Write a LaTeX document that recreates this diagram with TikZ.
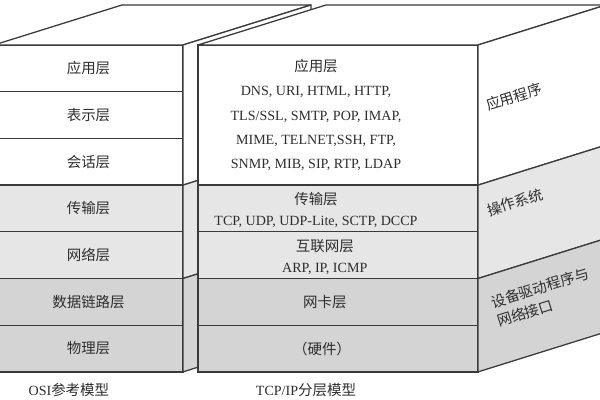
\documentclass[tikz,border=0pt]{standalone}
\usepackage{fontspec}
\setmainfont{Liberation Serif}
\newfontfamily\cjk{Noto Sans CJK SC}[Scale=1.03]
\usepackage{xcolor}
\usepackage{tikz}
\usetikzlibrary{positioning, calc}
\definecolor{edge}{HTML}{3A3A3A}
\definecolor{ink}{HTML}{2E2E2E}
\definecolor{osbg}{HTML}{E6E6E6}
\definecolor{drvbg}{HTML}{D4D4D4}
\newcommand{\zh}[1]{{\cjk #1}}
\tikzset{
    layer/.style={rectangle, draw=edge, line width=0.9pt, outer sep=0pt, inner sep=0pt,
                  minimum height=1.1675cm, align=center, text=ink,
                  font=\fontsize{10}{15}\selectfont},
    osilayer/.style={layer, minimum width=4.725cm},
    tcplayer/.style={layer, minimum width=7cm},
    face/.style={draw=edge, line width=0.9pt, line join=round},
    lbl/.style={align=center, text=ink, inner sep=0pt, font=\fontsize{10}{15}\selectfont},
    sidelbl/.style={lbl, rotate=17.35, align=left, font=\fontsize{10}{14}\selectfont},
}

\begin{document}
\begin{tikzpicture}
  \clip (0,0) rectangle (15,10);
  \fill[white] (0,0) rectangle (15,10);

  % OSI block
  \node[osilayer, anchor=north, fill=white] (osiApp) at (2.2125,8.875) {\zh{应用层}};
  \node[osilayer, below=0pt of osiApp, fill=white] (osiPres) {\zh{表示层}};
  \node[osilayer, below=0pt of osiPres, fill=white] (osiSess) {\zh{会话层}};
  \node[osilayer, below=0pt of osiSess, fill=osbg] (osiTrans) {\zh{传输层}};
  \node[osilayer, below=0pt of osiTrans, fill=osbg] (osiNet) {\zh{网络层}};
  \node[osilayer, below=0pt of osiNet, fill=drvbg] (osiLink) {\zh{数据链路层}};
  \node[osilayer, below=0pt of osiLink, fill=drvbg] (osiPhy) {\zh{物理层}};

  \draw[face, fill=white] (osiApp.north west) -- (osiApp.north east) -- ++(3.2,1)
       -- ($(osiApp.north west)+(3.2,1)$) -- cycle;
  \draw[face, fill=white] (osiApp.north east) -- ++(3.2,1) -- ($(osiSess.south east)+(3.2,1)$)
       -- (osiSess.south east) -- cycle;
  \draw[face, fill=osbg] (osiTrans.north east) -- ++(3.2,1) -- ($(osiNet.south east)+(3.2,1)$)
       -- (osiNet.south east) -- cycle;
  \draw[face, fill=drvbg] (osiLink.north east) -- ++(3.2,1) -- ($(osiPhy.south east)+(3.2,1)$)
       -- (osiPhy.south east) -- cycle;

  % TCP/IP block
  \node[tcplayer, anchor=north, minimum height=3.5025cm, fill=white] (tcpApp) at (8.45,8.875) {};
  \node[tcplayer, below=0pt of tcpApp, fill=osbg] (tcpTrans) {};
  \node[tcplayer, below=0pt of tcpTrans, fill=osbg] (tcpNet) {};
  \node[tcplayer, below=0pt of tcpNet, fill=drvbg] (tcpLink) {};
  \node[tcplayer, below=0pt of tcpLink, fill=drvbg] (tcpHw) {};

  \draw[face, fill=white] (tcpApp.north west) -- (tcpApp.north east) -- ++(3.2,1)
       -- ($(tcpApp.north west)+(3.2,1)$) -- cycle;
  \draw[face, fill=white] (tcpApp.north east) -- ++(3.2,1) -- ($(tcpApp.south east)+(3.2,1)$)
       -- (tcpApp.south east) -- cycle;
  \draw[face, fill=osbg] (tcpTrans.north east) -- ++(3.2,1) -- ($(tcpNet.south east)+(3.2,1)$)
       -- (tcpNet.south east) -- cycle;
  \draw[face, fill=drvbg] (tcpLink.north east) -- ++(3.2,1) -- ($(tcpHw.south east)+(3.2,1)$)
       -- (tcpHw.south east) -- cycle;

  \node[lbl, font=\fontsize{10}{17.3}\selectfont] (appTxt) at ([xshift=-0.55cm]tcpApp.center)
       {\zh{应用层}\\DNS, URI, HTML, HTTP,\\TLS/SSL, SMTP, POP, IMAP,\\MIME, TELNET,SSH, FTP,\\SNMP, MIB, SIP, RTP, LDAP};
  \node[lbl] (transTxt) at ([xshift=-0.55cm, yshift=-0.03cm]tcpTrans.center)
       {\zh{传输层}\\TCP, UDP, UDP-Lite, SCTP, DCCP};
  \node[lbl] (netTxt) at ([xshift=-0.33cm, yshift=-0.06cm]tcpNet.center)
       {\zh{互联网层}\\ARP, IP, ICMP};
  \node[lbl] (linkTxt) at ([xshift=-0.33cm]tcpLink.center) {\zh{网卡层}};
  \node[lbl] (hwTxt) at ([xshift=-0.4cm]tcpHw.center) {\zh{（硬件）}};

  \node[sidelbl] (appSide) at ($(tcpApp.east)+(0.9,0.45)$) {\zh{应用程序}};
  \node[sidelbl] (osSide) at ($(tcpNet.north east)+(0.925,0.74)$) {\zh{操作系统}};
  \node[sidelbl] (drvSide) at ($(tcpLink.south east)+(1.625,0.7)$) {\zh{设备驱动程序与}\\\zh{网络接口}};

  \node[lbl] (osiCap) at ($(osiPhy.south)+(-0.49,-0.45)$) {OSI\zh{参考模型}};
  \node[lbl] (tcpCap) at ($(tcpHw.south)+(-0.8,-0.45)$) {TCP/IP\zh{分层模型}};
\end{tikzpicture}
\end{document}
